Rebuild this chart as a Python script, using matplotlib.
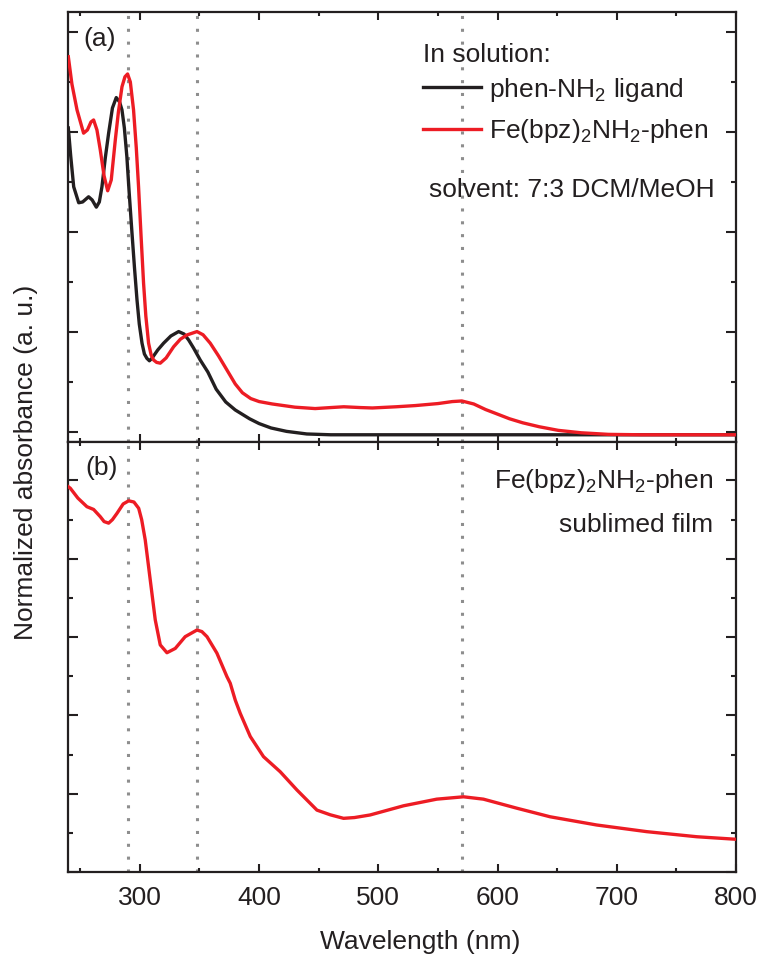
import matplotlib
matplotlib.use("Agg")
import matplotlib.pyplot as plt
from matplotlib.ticker import MultipleLocator

plt.rcParams['font.family'] = ['Liberation Sans', 'DejaVu Sans']
plt.rcParams['mathtext.fontset'] = 'custom'
plt.rcParams['mathtext.rm'] = 'Liberation Sans'
plt.rcParams['mathtext.default'] = 'regular'

ink = '#231f20'
red = '#ed1c24'
grey = '#8e8e8e'

# (a) solution spectra, phen-NH2 ligand
lig_nm = [240, 242, 244.5, 248.7, 252, 257, 260, 263.5, 266, 268.2, 271, 273.8, 277, 280.2,
          283, 285, 287, 289.1, 291, 293.4, 295.5, 297.6, 299.5, 301.8, 303.8, 305.9, 308,
          310.1, 315, 319.9, 326, 332.5, 337, 340.9, 345, 350.6, 357, 364, 372, 380, 392,
          400, 410, 423, 440, 460, 800]
lig_abs = [0.76, 0.69, 0.613, 0.573, 0.575, 0.588, 0.58, 0.562, 0.575, 0.613, 0.685, 0.747,
           0.81, 0.836, 0.825, 0.805, 0.76, 0.688, 0.6, 0.497, 0.41, 0.33, 0.27, 0.222,
           0.195, 0.184, 0.178, 0.184, 0.205, 0.222, 0.24, 0.251, 0.245, 0.23, 0.21, 0.18,
           0.15, 0.107, 0.075, 0.055, 0.033, 0.021, 0.01, 0.0015, -0.005, -0.007, -0.007]

# (a) solution spectra, Fe(bpz)2NH2-phen
sol_nm = [240, 243, 247.3, 252.8, 256, 259, 261.2, 264, 266.8, 270, 273, 276, 279.4, 282,
          285, 287.5, 289.7, 292, 294.7, 297, 298.9, 301, 303.1, 305, 307.3, 309.5, 311.5,
          314, 317.1, 322, 328.3, 334, 339.5, 347.9, 353, 359, 366, 373, 380, 386, 393,
          400, 411, 430, 447, 460, 471, 485, 495, 515, 531, 550, 562, 570, 580, 590, 597,
          610, 621, 635, 651, 670, 693, 720, 800]
sol_abs = [0.938, 0.87, 0.805, 0.747, 0.755, 0.775, 0.78, 0.755, 0.705, 0.64, 0.603, 0.63,
           0.73, 0.80, 0.863, 0.888, 0.895, 0.875, 0.805, 0.71, 0.613, 0.49, 0.372, 0.29,
           0.222, 0.192, 0.18, 0.174, 0.172, 0.185, 0.213, 0.232, 0.2425, 0.251, 0.243,
           0.222, 0.19, 0.155, 0.12, 0.098, 0.0835, 0.076, 0.07, 0.062, 0.0585, 0.061,
           0.063, 0.061, 0.06, 0.063, 0.066, 0.071, 0.076, 0.0775, 0.07, 0.056, 0.048,
           0.033, 0.023, 0.013, 0.004, -0.002, -0.006, -0.007, -0.007]

# (b) sublimed film
film_nm = [240, 241.7, 248, 255.6, 261.2, 266.8, 270, 273.8, 277, 280.8, 286, 290.6, 295,
           299, 301.5, 304.5, 308.7, 312.9, 317.1, 322.7, 329.7, 338, 347.9, 352, 356.3,
           364.6, 373, 375.8, 380, 384.2, 392.6, 403.7, 417.7, 431.7, 448.5, 459.7,
           470.8, 480, 493.1, 521.1, 549, 571.4, 588.1, 616, 644, 683.1, 725, 767, 800]
film_abs = [0.984, 0.98, 0.955, 0.933, 0.926, 0.9075, 0.895, 0.891, 0.9, 0.916, 0.94, 0.948,
            0.945, 0.929, 0.9, 0.848, 0.746, 0.644, 0.58, 0.56, 0.571, 0.601, 0.618, 0.614,
            0.601, 0.559, 0.499, 0.482, 0.439, 0.405, 0.346, 0.2945, 0.256, 0.2095, 0.158,
            0.146, 0.137, 0.139, 0.1456, 0.169, 0.186, 0.192, 0.186, 0.163, 0.141, 0.12,
            0.103, 0.09, 0.0835]

marks = [290, 348, 570]

fig = plt.figure(figsize=(7.6, 9.56), dpi=100)
ax1 = fig.add_axes([0.0899, 0.5380, 0.8786, 0.4498])
ax2 = fig.add_axes([0.0899, 0.0879, 0.8786, 0.4501])

for ax in (ax1, ax2):
    for x in marks:
        ax.axvline(x, color=grey, ls=(0, (1, 3.2)), lw=2.2, zorder=1)
    ax.set_xlim(240, 800)
    ax.xaxis.set_major_locator(MultipleLocator(100))
    ax.xaxis.set_minor_locator(MultipleLocator(50))
    for s in ax.spines.values():
        s.set_linewidth(1.6)
        s.set_color(ink)
    ax.tick_params(which='both', direction='in', top=True, right=True, colors=ink,
                   width=1.5, labelsize=19, labelcolor=ink)
    ax.tick_params(axis='x', which='major', length=5.5)
    ax.tick_params(axis='x', which='minor', length=2.8)
    ax.tick_params(axis='y', which='major', length=7.5)
    ax.tick_params(axis='y', which='minor', length=3.8)

ax1.plot(lig_nm, lig_abs, color=ink, lw=2.4, label=r'phen-NH$_2$ ligand', zorder=3)
ax1.plot(sol_nm, sol_abs, color=red, lw=2.4, label=r'Fe(bpz)$_2$NH$_2$-phen', zorder=4)
ax1.set_ylim(-0.02425, 1.05075)
ax1.yaxis.set_major_locator(MultipleLocator(0.25))
ax1.yaxis.set_minor_locator(MultipleLocator(0.125))
ax1.set_yticklabels([])
ax1.tick_params(labelbottom=False)

ax2.plot(film_nm, film_abs, color=red, lw=2.4, zorder=4)
ax2.set_ylim(0, 1.0991)
ax2.yaxis.set_major_locator(MultipleLocator(0.2))
ax2.yaxis.set_minor_locator(MultipleLocator(0.1))
ax2.set_yticklabels([])
ax2.tick_params(axis='x', pad=10)

ax1.text(0.531, 0.9, 'In solution:', transform=ax1.transAxes, ha='left',
         va='center', fontsize=19, color=ink)
leg = ax1.legend(loc='upper left', bbox_to_anchor=(0.531, 0.851),
                 frameon=False, fontsize=19, handlelength=2.2,
                 handletextpad=0.3, labelspacing=0.52, borderpad=0, borderaxespad=0)
for t in leg.get_texts():
    t.set_color(ink)

ax1.text(0.9686, 0.5853, 'solvent: 7:3 DCM/MeOH', transform=ax1.transAxes,
         ha='right', va='center', fontsize=19, color=ink)
ax1.text(0.0229, 0.9365, '(a)', transform=ax1.transAxes, ha='left', va='center',
         fontsize=19, color=ink)

ax2.text(0.966, 0.9077, r'Fe(bpz)$_2$NH$_2$-phen', transform=ax2.transAxes,
         ha='right', va='center', fontsize=19, color=ink)
ax2.text(0.966, 0.807, 'sublimed film', transform=ax2.transAxes,
         ha='right', va='center', fontsize=19, color=ink)
ax2.text(0.0254, 0.9395, '(b)', transform=ax2.transAxes, ha='left', va='center',
         fontsize=19, color=ink)

fig.text(0.553, 0.0146, 'Wavelength (nm)', ha='center', va='center', fontsize=19, color=ink)
fig.text(0.034, 0.5167, 'Normalized absorbance (a. u.)', rotation=90, ha='center',
         va='center', fontsize=19, color=ink)

fig.savefig('out.png', dpi=100)
